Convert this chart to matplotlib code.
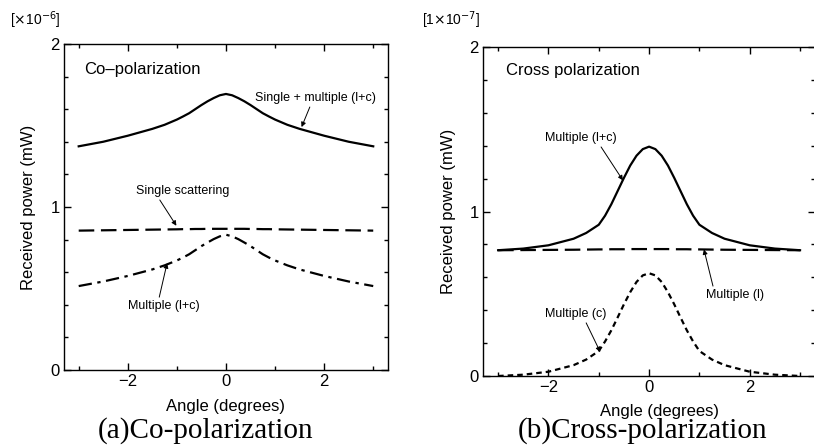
import matplotlib
matplotlib.use("Agg")
from matplotlib import pyplot as plt
from matplotlib.ticker import MultipleLocator

plt.rcParams["font.family"] = ["Liberation Sans", "DejaVu Sans"]

# angle grid (degrees), symmetric about 0
angle = [-3, -2.5, -2, -1.5, -1.25, -1, -0.875, -0.75, -0.625, -0.5, -0.375, -0.25, -0.125,
         0, 0.125, 0.25, 0.375, 0.5, 0.625, 0.75, 0.875, 1, 1.25, 1.5, 2, 2.5, 3]

# (a) co-polarization, units of 1e-6 mW
co_total = [1.372, 1.400, 1.437, 1.479, 1.504, 1.536, 1.555, 1.575, 1.600, 1.625, 1.648, 1.668, 1.685,
            1.693, 1.685, 1.668, 1.648, 1.625, 1.600, 1.575, 1.555, 1.536, 1.504, 1.479, 1.437, 1.400, 1.372]
co_single = [0.855, 0.857, 0.859, 0.861, 0.862, 0.863, 0.864, 0.864, 0.865, 0.865, 0.866, 0.866, 0.866,
             0.866, 0.866, 0.866, 0.866, 0.865, 0.865, 0.864, 0.864, 0.863, 0.862, 0.861, 0.859, 0.857, 0.855]
co_multiple = [0.515, 0.543, 0.577, 0.617, 0.642, 0.672, 0.690, 0.710, 0.735, 0.760, 0.782, 0.803, 0.820,
               0.830, 0.820, 0.803, 0.782, 0.760, 0.735, 0.710, 0.690, 0.672, 0.642, 0.617, 0.577, 0.543, 0.515]

# (b) cross-polarization, units of 1e-7 mW
cx_total = [0.765, 0.775, 0.795, 0.835, 0.870, 0.920, 0.975, 1.045, 1.125, 1.205, 1.280, 1.340, 1.380,
            1.395, 1.380, 1.340, 1.280, 1.205, 1.125, 1.045, 0.975, 0.920, 0.870, 0.835, 0.795, 0.775, 0.765]
cx_l = [0.765, 0.766, 0.767, 0.768, 0.769, 0.770, 0.770, 0.771, 0.771, 0.771, 0.772, 0.772, 0.772,
        0.772, 0.772, 0.772, 0.772, 0.771, 0.771, 0.771, 0.770, 0.770, 0.769, 0.768, 0.767, 0.766, 0.765]
cx_c = [0.000, 0.008, 0.026, 0.066, 0.100, 0.152, 0.210, 0.278, 0.356, 0.436, 0.510, 0.572, 0.612,
        0.625, 0.612, 0.572, 0.510, 0.436, 0.356, 0.278, 0.210, 0.152, 0.100, 0.066, 0.026, 0.008, 0.000]

fig = plt.figure(figsize=(8.14, 4.48), dpi=100)
ax1 = fig.add_axes([0.0786, 0.174, 0.398, 0.728])
ax2 = fig.add_axes([0.5934, 0.1607, 0.408, 0.734])

lw = 1.6
ax1.plot(angle, co_total, color="k", lw=lw)
ax1.plot(angle, co_single, color="k", lw=lw, linestyle=(0, (7, 3)))
ax1.plot(angle, co_multiple, color="k", lw=lw, linestyle=(0, (6, 2.5, 1.5, 2.5)))

ax2.plot(angle, cx_total, color="k", lw=lw)
ax2.plot(angle, cx_l, color="k", lw=lw, linestyle=(0, (7, 3)))
ax2.plot(angle, cx_c, color="k", lw=lw, linestyle=(0, (2.5, 1.8)))

for ax in (ax1, ax2):
    ax.set_xlim(-3.3, 3.3)
    ax.set_ylim(0, 2)
    ax.set_xticks([-2, 0, 2])
    ax.set_xticklabels(["\u22122", "0", "2"])
    ax.xaxis.set_minor_locator(MultipleLocator(1))
    ax.set_yticks([0, 1, 2])
    ax.yaxis.set_minor_locator(MultipleLocator(0.2))
    ax.tick_params(which="both", direction="in", top=True, right=True, labelsize=12, pad=3)
    ax.tick_params(which="major", length=5, width=1)
    ax.tick_params(which="minor", length=3, width=1)
    for sp in ax.spines.values():
        sp.set_linewidth(1.0)
    ax.set_ylabel("Received power (mW)", fontsize=12)
    ax.set_xlabel("Angle (degrees)", fontsize=12)

ax1.xaxis.set_label_coords(0.5, -0.113)
ax1.yaxis.set_label_coords(-0.111, 0.5)
ax2.xaxis.set_label_coords(0.53, -0.109)
ax2.yaxis.set_label_coords(-0.105, 0.5)
for ax in (ax1, ax2):
    ax.xaxis.label.set_va("center")
    ax.yaxis.label.set_va("center")


def arrow(rx, ry):
    return dict(arrowstyle="-|>", color="k", lw=0.7, mutation_scale=7,
                shrinkA=0, shrinkB=0, relpos=(rx, ry))


ax1.text(-2.88, 1.84, "Co\u2013polarization", fontsize=12, va="center")
ax1.annotate("Single + multiple (l+c)", xy=(1.54, 1.49), xytext=(1.83, 1.63), fontsize=9,
             ha="center", va="bottom", arrowprops=arrow(0.46, 0.0))
ax1.annotate("Single scattering", xy=(-1.01, 0.885), xytext=(-0.89, 1.06), fontsize=9,
             ha="center", va="bottom", arrowprops=arrow(0.24, 0.0))
ax1.annotate("Multiple (l+c)", xy=(-1.2, 0.655), xytext=(-1.27, 0.43), fontsize=9,
             ha="center", va="top", arrowprops=arrow(0.43, 1.0))

ax2.text(-2.84, 1.86, "Cross polarization", fontsize=12, va="center")
ax2.annotate("Multiple (l+c)", xy=(-0.52, 1.19), xytext=(-1.36, 1.41), fontsize=9,
             ha="center", va="bottom", arrowprops=arrow(0.76, 0.0))
ax2.annotate("Multiple (l)", xy=(1.09, 0.77), xytext=(1.71, 0.53), fontsize=9,
             ha="center", va="top", arrowprops=arrow(0.13, 1.0))
ax2.annotate("Multiple (c)", xy=(-0.97, 0.146), xytext=(-1.46, 0.34), fontsize=9,
             ha="center", va="bottom", arrowprops=arrow(0.65, 0.0))

fig.text(0.012, 0.955, r"[$\times$10$^{-6}$]", fontsize=10, va="center")
fig.text(0.518, 0.955, r"[1$\times$10$^{-7}$]", fontsize=10, va="center")

fig.text(0.252, 0.04, "(a)Co-polarization", fontsize=21, ha="center", va="center",
         family=["Liberation Serif", "DejaVu Serif"])
fig.text(0.79, 0.04, "(b)Cross-polarization", fontsize=21, ha="center", va="center",
         family=["Liberation Serif", "DejaVu Serif"])

fig.savefig("out.png", dpi=100)
